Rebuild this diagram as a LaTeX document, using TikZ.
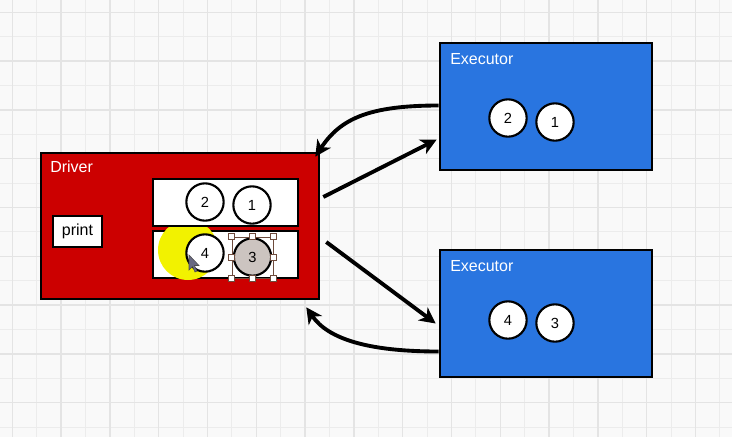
\documentclass[tikz,border=0pt]{standalone}
\usepackage{fontspec}
\setmainfont{Liberation Sans}
\usetikzlibrary{arrows.meta,calc}

\definecolor{drvred}{RGB}{204,0,0}
\definecolor{exeblue}{RGB}{41,117,224}
\definecolor{bggray}{RGB}{249,249,249}
\definecolor{gridminor}{RGB}{236,236,236}
\definecolor{gridmajor}{RGB}{228,228,228}
\definecolor{taskgray}{RGB}{204,196,192}
\definecolor{selbrown}{RGB}{110,75,60}
\definecolor{hiyellow}{RGB}{242,242,0}
\definecolor{cursorgray}{RGB}{105,105,130}

\tikzset{
  task/.style={circle, draw=black, line width=1.6pt, fill=white, minimum size=28pt, inner sep=0pt, font=\fontsize{11}{13}\selectfont},
  slot/.style={draw=black, line width=1.9pt, fill=white, minimum width=108.75pt, minimum height=35.25pt, inner sep=0pt},
  exebox/.style={draw=black, line width=1.9pt, fill=exeblue, minimum width=159pt, minimum height=95.25pt, inner sep=0pt},
  boxlabel/.style={text=white, anchor=base west, inner sep=0pt, font=\fontsize{12}{14}\selectfont},
  handle/.style={draw=selbrown, line width=0.6pt, fill=white, minimum size=4.5pt, inner sep=0pt},
  flow/.style={line width=2.9pt, -{Stealth[length=12pt,width=12pt,inset=3.5pt]}},
}

\begin{document}
\begin{tikzpicture}[x=0.75pt,y=0.75pt,yscale=-1,xscale=1]
        \useasboundingbox (0,0) rectangle (732,437);
        \fill [bggray] (0,0) rectangle (732,437);

        %Grid
        \draw [gridminor, line width=0.75pt, shift={(12.3,12.3)}] (-12.3,-12.3) grid [step=18.3pt] (720,425);
        \draw [gridmajor, line width=1pt, shift={(12.3,12.3)}] (-12.3,-12.3) grid [step=36.6pt] (720,425);

        %Shape: Driver
        \node [draw=black, line width=1.9pt, fill=drvred, minimum width=208.5pt, minimum height=109.5pt, inner sep=0pt] (drv) at (180,226) {};
        %Shape: Executors
        \node [exebox] (exeA) at (546,106.5) {};
        \node [exebox] (exeB) at (546,313.5) {};

        %Shape: print
        \node [draw=black, line width=1.3pt, fill=white, minimum width=36.75pt, minimum height=23.25pt, inner sep=0pt, font=\fontsize{12}{14}\selectfont] (prt) at (77.5,231.5) {print};

        %Shape: slots in the driver
        \node [slot] (slotB) at (225.5,254.5) {};
        %Shape: highlight
        \fill [hiyellow] (188,250) circle [radius=30];
        \node [slot] (slotA) at (225.5,202.5) {};

        %Shape: tasks
        \node [task] (dt2) at (205,202) {2};
        \node [task] (dt1) at (252,205) {1};
        \node [task] (dt4) at (205,253) {4};
        \node [task, fill=taskgray] (dt3) at (252.5,257) {3};
        \node [task] (ea2) at (508,118) {2};
        \node [task] (ea1) at (555,122) {1};
        \node [task] (eb4) at (508,320) {4};
        \node [task] (eb3) at (555,323) {3};

        %Shape: selection
        \node [draw=selbrown, line width=0.6pt, minimum size=30.75pt, inner sep=0pt] (sel) at (252.5,257.5) {};
        \foreach \a [count=\i] in {north west,north,north east,east,south east,south,south west,west}
          \node [handle] (hd\i) at (sel.\a) {};

        %Shape: cursor
        \filldraw [cursorgray, draw=black!70, line width=0.4pt, shift={(189,255)}] (0,0) -- (0,15) -- (3.5,11.5) -- (6,17) -- (8,16) -- (5.5,10.5) -- (10,10.5) -- cycle;

        %Arrows
        \draw [flow] ($(exeA.west)+(0,-1)$) .. controls +(-70,0) and +(25,-38) .. ($(drv.north east)+(-5,5)$);
        \draw [flow] ($(drv.east)+(3,-29)$) -- ($(exeA.west)+(-2,33)$);
        \draw [flow] ($(drv.east)+(6,16)$) -- ($(exeB.west)+(-3,10)$);
        \draw [flow] ($(exeB.west)+(0,38)$) .. controls +(-70,0) and +(22,32) .. ($(drv.south east)+(-14,7)$);

        % Text Node
        \node [boxlabel] (drvlbl) at (50,172) {Driver};
        % Text Node
        \node [boxlabel] (exeAlbl) at (450,64) {Executor};
        % Text Node
        \node [boxlabel] (exeBlbl) at (450,271) {Executor};

\end{tikzpicture}
\end{document}
